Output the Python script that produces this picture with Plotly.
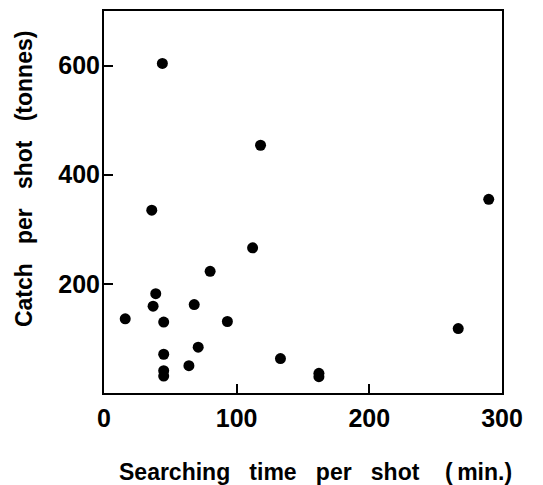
import plotly.graph_objects as go

search_time = [44, 118, 36, 290, 112, 80, 39, 37, 16, 45, 68, 93, 267, 71, 45, 133, 64, 45, 45, 162, 162]
catch = [604, 454, 335, 355, 266, 223, 182, 159, 136, 130, 162, 131, 118, 84, 71, 63, 50, 41, 31, 36, 30]

x_ticks = [0, 100, 200, 300]
y_ticks = [200, 400, 600]

FONT = "Liberation Sans"
NB = "\u00a0"

fig = go.Figure()
fig.add_trace(go.Scatter(
    x=search_time, y=catch, mode="markers",
    marker=dict(size=11, color="black"),
    showlegend=False, cliponaxis=False,
))

axis_common = dict(
    showgrid=False, zeroline=False, showline=True, linecolor="black",
    linewidth=2, mirror=True, ticks="inside", ticklen=9, tickwidth=2,
    tickcolor="black",
    tickfont=dict(family=FONT, size=25, color="black", weight="bold"),
)

fig.update_xaxes(range=[0, 300], tickvals=x_ticks, ticktext=[str(v) for v in x_ticks],
                 ticklabelstandoff=2, **axis_common)
fig.update_yaxes(range=[0, 700], tickvals=y_ticks, ticktext=[str(v) for v in y_ticks],
                 ticklabelstandoff=-3, **axis_common)

fig.add_annotation(
    text=f"Searching{NB*3}time{NB*3}per{NB*3}shot{NB*4}(\u2009min.)",
    xref="paper", yref="paper", x=0.532, y=0, yshift=-79,
    xanchor="center", yanchor="middle", showarrow=False,
    font=dict(family=FONT, size=23, color="black", weight="bold"),
)
fig.add_annotation(
    text=f"Catch{NB*3}per{NB*3}shot{NB*3}(tonnes)",
    xref="paper", yref="paper", x=-0.201, y=0.56,
    xanchor="center", yanchor="middle", showarrow=False, textangle=-90,
    font=dict(family=FONT, size=23, color="black", weight="bold"),
)

# page body has an 8px margin, so the figure is offset by 8px
fig.update_layout(
    width=535, height=477,
    margin=dict(l=96, r=41, t=1, b=92),
    paper_bgcolor="white", plot_bgcolor="white",
)

fig.write_html("out.html")
